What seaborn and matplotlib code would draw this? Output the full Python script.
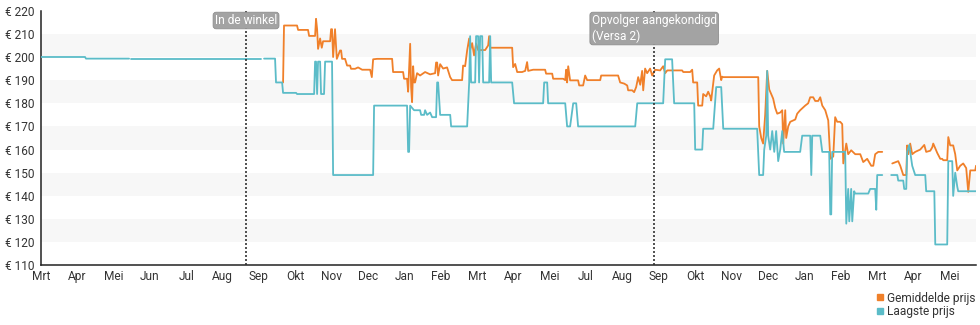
import numpy as np
import pandas as pd
import matplotlib
matplotlib.use("Agg")
import matplotlib.pyplot as plt
import matplotlib.transforms as mtransforms
from matplotlib.lines import Line2D
import seaborn as sns

nan = float("nan")

# ---------------- data ----------------
month_labels = ["Mrt", "Apr", "Mei", "Jun", "Jul", "Aug", "Sep", "Okt", "Nov", "Dec", "Jan", "Feb",
                "Mrt", "Apr", "Mei", "Jul", "Aug", "Sep", "Okt", "Nov", "Dec", "Jan", "Feb", "Mrt",
                "Apr", "Mei"]
month_len = 30.44  # days per month tick
y_ticks = [110, 120, 130, 140, 150, 160, 170, 180, 190, 200, 210, 220]

event_days = [171.9, 513.6]
event_labels = ["In de winkel", "Opvolger aangekondigd\n(Versa 2)"]

series_names = ["Gemiddelde prijs", "Laagste prijs"]

low_day = [0, 37.1, 37.9, 74.0, 74.8, 75.6, 184.5, 185.7, 187.0, 196.2, 197.0, 202.1, 202.9, 213.8,
           214.6, 228.9, 229.7, 230.5, 231.4, 232.2, 233.9, 234.7, 237.2, 238.1, 243.9, 244.8, 278.3,
           279.1, 306.7, 307.6, 308.4, 309.3, 310.9, 312.6, 317.6, 318.5, 321.0, 321.8, 323.5, 326.0,
           327.7, 331.0, 331.9, 332.7, 334.4, 342.8, 343.6, 357.0, 358.7, 359.5, 360.3, 363.7, 364.5,
           366.2, 367.0, 367.9, 369.6, 370.4, 375.4, 376.3, 377.1, 394.7, 396.3, 420.6, 421.5, 424.0,
           424.8, 439.1, 440.7, 443.2, 445.8, 448.3, 449.9, 497.7, 499.4, 521.1, 522.8, 528.6, 530.3,
           547.1, 547.9, 553.8, 554.6, 563.0, 565.5, 569.7, 571.4, 599.8, 601.5, 604.8, 605.7, 607.4,
           608.2, 609.0, 610.7, 612.4, 614.1, 615.7, 617.4, 619.1, 620.8, 622.4, 635.8, 637.5, 644.2,
           645.1, 645.9, 652.6, 654.3, 660.1, 661.0, 661.8, 662.6, 673.5, 674.4, 676.0, 676.9, 678.5,
           679.4, 681.0, 681.9, 692.8, 694.4, 698.6, 699.5, 700.3, 704.5, 708.0, 712.0, 717.1, 717.9,
           722.1, 722.9, 724.6, 725.4, 727.1, 729.6, 732.1, 740.5, 741.3, 748.1, 748.9, 758.9, 759.8,
           763.1, 763.9, 765.6, 767.3, 768.1, 783.0]
low_price = [200, 200, 199.3, 199.3, nan, 199.3, 199.3, nan, 199.3, 199.3, 189, 189, 184.5, 184.5,
             184, 184, 198, 198, 184, 198, 198, 184, 184, 198, 198, 149, 149,
             179, 179, 159, 159, 179, 178, 177, 177, 175, 175, 177, 175, 176,
             174, 174, 189, 189, 175, 175, 170, 170, 189, 209, 189, 189, 209,
             209, 189, 209, 209, 189, 189, 209, 189, 189, 180, 180, 189, 189,
             180, 180, 170, 170, 180, 180, 170, 170, 180, 180, 199, 199, 180,
             180, 160, 160, 169, 169, 187, 187, 169, 169, 149, 149, 160, 166,
             194, 166, 160, 168, 159, 168, 155, 160, 168, 159, 159, 166, 166,
             149, 166, 166, 159, 159, 132, 132, 159, 159, 128, 143, 129, 143,
             129, 142, 141, 141, 143, 143, 134, 149, 149, nan, 149, 149, 146.6,
             146.6, 143, 143, 159, 162, 153, 149, 149, 142, 142, 119, 119, 155,
             155, 140, 150, 144, 142, 142]

avg_day = [202.9, 203.7, 214.6, 215.5, 223.8, 224.7, 229.7, 230.5, 231.4, 232.2, 233.9, 235.3, 236.4,
           242.3, 243.1, 243.9, 244.8, 246.4, 247.9, 250.6, 251.5, 252.3, 254.8, 256.5, 259.0, 259.8,
           263.2, 265.7, 269.1, 275.8, 277.2, 278.3, 281.6, 294.2, 295.0, 303.4, 304.2, 306.7, 307.6,
           309.3, 310.1, 310.9, 311.8, 312.6, 313.4, 315.1, 317.6, 321.8, 326.0, 330.2, 331.0, 331.9,
           332.7, 334.4, 336.9, 340.2, 342.8, 344.4, 352.8, 353.6, 355.3, 357.0, 358.7, 359.5, 361.2,
           362.8, 364.5, 366.2, 372.1, 374.6, 375.4, 376.3, 394.7, 395.5, 397.2, 398.9, 403.0, 405.6,
           407.2, 408.1, 412.3, 422.3, 423.1, 428.2, 429.0, 437.4, 439.1, 439.9, 440.7, 441.6, 443.2,
           449.9, 450.8, 454.1, 455.8, 457.5, 468.4, 469.2, 483.4, 485.1, 488.5, 491.0, 491.8, 495.2,
           496.8, 498.5, 500.2, 501.9, 503.5, 504.4, 506.0, 507.7, 510.2, 511.9, 514.4, 518.6, 521.1,
           522.8, 524.5, 537.0, 537.9, 543.7, 545.4, 546.2, 549.6, 550.4, 553.8, 554.6, 557.1, 558.8,
           560.5, 561.3, 563.8, 566.3, 568.0, 569.7, 570.5, 571.4, 600.7, 601.5, 603.2, 604.8, 606.5,
           608.2, 609.9, 611.5, 613.2, 614.9, 616.6, 619.1, 620.8, 621.6, 623.3, 624.1, 625.8, 627.5,
           631.7, 633.3, 635.8, 640.0, 642.5, 644.2, 646.7, 648.4, 650.9, 652.6, 654.3, 656.8, 659.3,
           661.0, 663.5, 665.1, 666.8, 669.3, 671.0, 671.9, 674.4, 676.0, 678.5, 681.9, 686.1, 688.6,
           691.9, 695.3, 697.0, 698.6, 701.2, 704.5, 708.5, 712.9, 717.9, 719.6, 722.1, 724.6, 725.4,
           726.3, 727.9, 729.6, 732.1, 736.3, 739.7, 741.3, 744.7, 746.4, 747.2, 750.6, 753.1, 754.7,
           755.6, 758.9, 759.8, 761.4, 763.9, 765.6, 767.3, 769.8, 772.3, 774.8, 776.5, 778.2, 782.4,
           783.0]
avg_price = [189, 213.6, 213.6, 211.7, 211.7, 209.1, 209.1, 216.5, 212, 203.5, 208, 204, 206.8,
             206.8, 212, 212, 200, 212, 199.2, 202.8, 202.8, 199.2, 199.2, 196.3, 196.3, 194.9,
             194.9, 195.5, 194.5, 194.5, 191.3, 199, 199.2, 199.2, 193.5, 193.5, 190.6, 190.6, 185,
             205.7, 187, 180.5, 196, 189, 189, 193, 192, 193.5, 192.5, 193, 197.6, 197.6,
             192, 196.9, 195, 195.5, 191.3, 190, 190, 196.3, 196, 202.8, 208, 203, 206,
             200.7, 205.8, 203, 203, 205, 209, 204, 204, 195.6, 197, 193.5, 193.5, 194,
             197.8, 194, 194.5, 194.5, 192.8, 192.8, 190.6, 190.6, 190, 194.5, 189, 196, 189.9,
             189.9, 187.7, 187.7, 192, 190, 190, 192, 192, 189, 188.5, 187.7, 185.6, 185.6,
             184.8, 187, 191.3, 188, 194, 185.6, 195, 193, 195, 192, 194.5, 194.2, 196,
             193, 194.2, 194.2, 193.5, 193.5, 194.5, 189, 189, 179, 179, 184, 183, 185,
             183, 181.2, 192, 194.2, 195, 190, 191.5, 191.3, 191.3, 170, 165, 162.6, 175,
             194, 186, 184, 182, 178, 175.5, 176, 177, 162.6, 177, 165, 170, 172,
             173, 175.5, 177, 179, 180, 182.6, 182.6, 181, 181, 182.6, 179, 177, 172.6,
             156, 157, 174, 172, 172, 171, 154, 162.6, 158, 159.7, 158, 158, 154.6,
             156, 153, 153, 158, 159, 159, nan, 154, 155, 153, 149, 149, 161.8,
             158, 162.6, 158, 159, 160, 162, 159, 159.5, 161, 162.6, 158.5, 156, 156,
             155.4, 155.4, 165.4, 161.8, 161.8, 158, 151, 153, 154, 152, 141.7, 151, 151,
             153]

# ---------------- style ----------------
sns.set_style("white")
plt.rcParams["font.family"] = ["Roboto", "DejaVu Sans"]

c_avg = "#f0802a"
c_low = "#5bbcc8"
txt_col = "#333333"
fs = 8.6

W, H = 980, 325
fig = plt.figure(figsize=(W / 100, H / 100), dpi=100)
x0, x1, ytop, ybot = 40.7, 976, 10.7, 265.3
ax = fig.add_axes([x0 / W, 1 - ybot / H, (x1 - x0) / W, (ybot - ytop) / H])


def make_df(days, prices, name):
    df = pd.DataFrame({"day": days, "price": prices})
    df["seg"] = df["price"].isna().cumsum()
    df = df.dropna().copy()
    df["series"] = name
    return df


avg_df = make_df(avg_day, avg_price, series_names[0])
low_df = make_df(low_day, low_price, series_names[1])

# alternating bands
for lo in y_ticks[1::2][:-1]:
    ax.axhspan(lo, lo + 10, color="#f7f7f7", zorder=0, lw=0)

sns.lineplot(data=avg_df, x="day", y="price", units="seg", estimator=None, color=c_avg,
             lw=1.3, ax=ax, legend=False, zorder=3)
sns.lineplot(data=low_df, x="day", y="price", units="seg", estimator=None, color=c_low,
             lw=1.3, ax=ax, legend=False, zorder=4)

ax.set_xlim(0, 783)
ax.set_ylim(110, 220)
ax.set_xlabel("")
ax.set_ylabel("")

ax.set_xticks([k * month_len for k in range(len(month_labels))])
ax.set_xticklabels(month_labels)
ax.set_yticks(y_ticks)
ax.set_yticklabels([f"€ {v}" for v in y_ticks])
ax.tick_params(axis="both", labelsize=fs, colors="#222222", labelcolor=txt_col,
               direction="inout", length=5, width=1)
ax.tick_params(axis="x", pad=1)
ax.tick_params(axis="y", pad=2)

for s in ["top", "right"]:
    ax.spines[s].set_visible(False)
for s in ["left", "bottom"]:
    ax.spines[s].set_color("#222222")
    ax.spines[s].set_linewidth(1.1)

# event lines and labels
trans = mtransforms.blended_transform_factory(ax.transData, ax.transAxes)
for d, lab in zip(event_days, event_labels):
    ax.axvline(d, color="#333333", lw=1.2, ls=(0, (1.2, 1.2)), zorder=5)
    ax.text(d, 0.987, lab, transform=trans, ha="center", va="top", multialignment="left",
            fontsize=fs, color="white", zorder=6, linespacing=1.25,
            bbox=dict(boxstyle="round,pad=0.15,rounding_size=0.25", fc="#a3a3a3", ec="#8e8e8e",
                      lw=0.6))

# legend
handles = [Line2D([], [], ls="none", marker="s", markersize=4.5, color=c_avg),
           Line2D([], [], ls="none", marker="s", markersize=4.5, color=c_low)]
fig.legend(handles, series_names, loc="upper right", bbox_to_anchor=(0.995, 0.103),
           frameon=False, fontsize=fs, handlelength=0.6, handletextpad=0.25,
           labelspacing=0.05, borderpad=0, borderaxespad=0, labelcolor=txt_col)

fig.savefig("out.png", dpi=100)
